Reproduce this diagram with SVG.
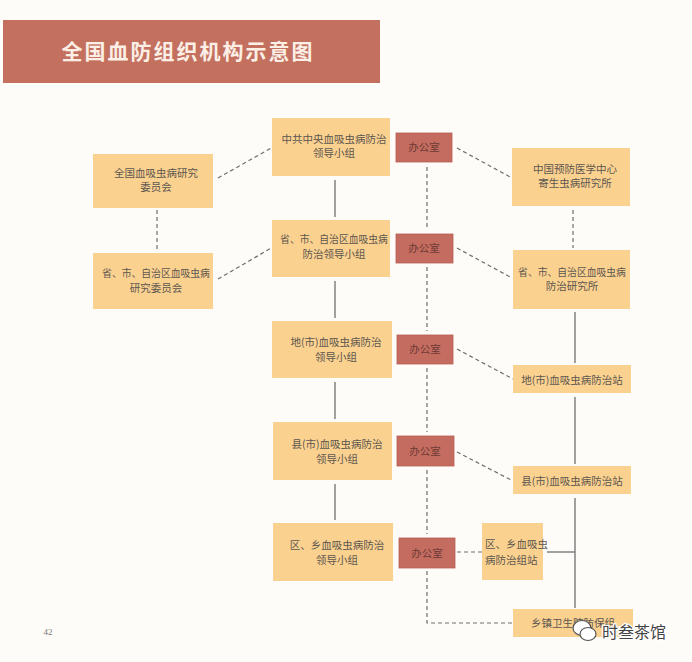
<svg xmlns="http://www.w3.org/2000/svg" width="692" height="662" viewBox="0 0 692 662">
<style>
.n{fill:#fbd18f}
.o{fill:#c56c60;stroke:#b85d52;stroke-width:0.8}
.t{font-family:"Noto Sans CJK SC","Liberation Serif",serif;font-size:10.5px;fill:#5c5650;text-anchor:middle}
.w{font-size:9.8px}
.ot{font-family:"Noto Sans CJK SC","Liberation Serif",serif;font-size:10.5px;fill:#6a3a34;text-anchor:middle}
.s{stroke:#7a7a7a;stroke-width:1.4;fill:none}
.d{stroke:#6e6e6e;stroke-width:1.2;fill:none;stroke-dasharray:4 3}
</style>
<rect width="692" height="662" fill="#fdfcf8"/>
<g id="title">
<rect x="3" y="20" width="377" height="63" fill="#c4705f"/>
<text x="188" y="59" font-family="Noto Sans CJK SC,serif" font-size="21" font-weight="bold" fill="#fbefe6" text-anchor="middle" letter-spacing="2">全国血防组织机构示意图</text>
</g>
<g id="connectors">
<line class="s" x1="335" y1="180" x2="335" y2="217"/>
<line class="s" x1="335" y1="281" x2="335" y2="318"/>
<line class="s" x1="335" y1="382" x2="335" y2="419"/>
<line class="s" x1="335" y1="484" x2="335" y2="520"/>
<line class="d" x1="427" y1="167" x2="427" y2="230"/>
<line class="d" x1="427" y1="267" x2="427" y2="331"/>
<line class="d" x1="427" y1="368" x2="427" y2="432"/>
<line class="d" x1="427" y1="470" x2="427" y2="534"/>
<polyline class="d" points="427,571 427,623 513,623"/>
<line class="d" x1="457" y1="148" x2="512" y2="178"/>
<line class="d" x1="457" y1="248" x2="512" y2="278"/>
<line class="d" x1="457" y1="349" x2="513" y2="379"/>
<line class="d" x1="457" y1="452" x2="513" y2="481"/>
<line class="d" x1="457" y1="552" x2="483" y2="552"/>
<line class="d" x1="218" y1="178" x2="273" y2="147"/>
<line class="d" x1="218" y1="279" x2="273" y2="247"/>
<line class="d" x1="157" y1="210" x2="157" y2="249"/>
<line class="d" x1="573" y1="210" x2="573" y2="248"/>
<line class="s" x1="575" y1="312" x2="575" y2="363"/>
<line class="s" x1="575" y1="397" x2="575" y2="464"/>
<line class="s" x1="575" y1="498" x2="575" y2="608"/>
<line class="s" x1="547" y1="552" x2="575" y2="552"/>
</g>
<g id="n_quanguo_yjwyh">
<rect class="n" x="93" y="154" width="120" height="54"/>
<text class="t" x="156" y="177">全国血吸虫病研究</text>
<text class="t" x="156" y="191">委员会</text>
</g>
<g id="n_sheng_yjwyh">
<rect class="n" x="93" y="253" width="120" height="56"/>
<text class="t w" x="156" y="277">省、市、自治区血吸虫病</text>
<text class="t" x="156" y="292">研究委员会</text>
</g>
<g id="n_zhongyang">
<rect class="n" x="272" y="118" width="118" height="58"/>
<text class="t" x="334" y="143">中共中央血吸虫病防治</text>
<text class="t" x="334" y="157">领导小组</text>
</g>
<g id="n_sheng_ldxz">
<rect class="n" x="272" y="220" width="118" height="57"/>
<text class="t w" x="334" y="243">省、市、自治区血吸虫病</text>
<text class="t" x="334" y="258">防治领导小组</text>
</g>
<g id="n_di_ldxz">
<rect class="n" x="272" y="321" width="120" height="57"/>
<text class="t" x="336" y="346">地(市)血吸虫病防治</text>
<text class="t" x="336" y="361">领导小组</text>
</g>
<g id="n_xian_ldxz">
<rect class="n" x="273" y="422" width="119" height="58"/>
<text class="t" x="337" y="448">县(市)血吸虫病防治</text>
<text class="t" x="337" y="463">领导小组</text>
</g>
<g id="n_qu_ldxz">
<rect class="n" x="273" y="523" width="120" height="58"/>
<text class="t" x="337" y="549">区、乡血吸虫病防治</text>
<text class="t" x="337" y="564">领导小组</text>
</g>
<g id="o1"><rect class="o" x="396" y="133" width="56" height="29"/><text class="ot" x="424" y="151">办公室</text></g>
<g id="o2"><rect class="o" x="396" y="234" width="57" height="29"/><text class="ot" x="424" y="252">办公室</text></g>
<g id="o3"><rect class="o" x="397" y="335" width="56" height="29"/><text class="ot" x="425" y="353">办公室</text></g>
<g id="o4"><rect class="o" x="397" y="436" width="57" height="30"/><text class="ot" x="425" y="455">办公室</text></g>
<g id="o5"><rect class="o" x="399" y="538" width="56" height="30"/><text class="ot" x="427" y="557">办公室</text></g>
<g id="n_jishengchong">
<rect class="n" x="512" y="148" width="118" height="58"/>
<text class="t" x="575" y="173">中国预防医学中心</text>
<text class="t" x="575" y="187">寄生虫病研究所</text>
</g>
<g id="n_sheng_yjs">
<rect class="n" x="513" y="250" width="117" height="59"/>
<text class="t w" x="572" y="276">省、市、自治区血吸虫病</text>
<text class="t" x="572" y="290">防治研究所</text>
</g>
<g id="n_di_zhan">
<rect class="n" x="513" y="365" width="118" height="28"/>
<text class="t" x="572" y="384">地(市)血吸虫病防治站</text>
</g>
<g id="n_xian_zhan">
<rect class="n" x="513" y="466" width="118" height="28"/>
<text class="t" x="572" y="485">县(市)血吸虫病防治站</text>
</g>
<g id="n_qu_zhan">
<rect class="n" x="482" y="523" width="61" height="57"/>
<text class="t" x="485" y="548" style="text-anchor:start">区、乡血吸虫</text>
<text class="t" x="485" y="564" style="text-anchor:start">病防治组站</text>
</g>
<g id="n_xiangzhen">
<rect class="n" x="513" y="609" width="120" height="28"/>
<text class="t" x="573" y="627">乡镇卫生院防保组</text>
</g>
<text x="48" y="635" font-family="Liberation Serif,serif" font-size="9" fill="#777" text-anchor="middle">42</text>
<g id="watermark">
<ellipse cx="582" cy="628" rx="9" ry="7.5" fill="#fff" stroke="#555" stroke-width="1.2"/>
<ellipse cx="588" cy="634" rx="8" ry="6.5" fill="#fff" stroke="#555" stroke-width="1.2"/>
<text x="602" y="638" font-family="Noto Sans CJK SC,sans-serif" font-size="16" fill="#444" stroke="#fff" stroke-width="2.5" paint-order="stroke">时叁茶馆</text>
</g>
</svg>
